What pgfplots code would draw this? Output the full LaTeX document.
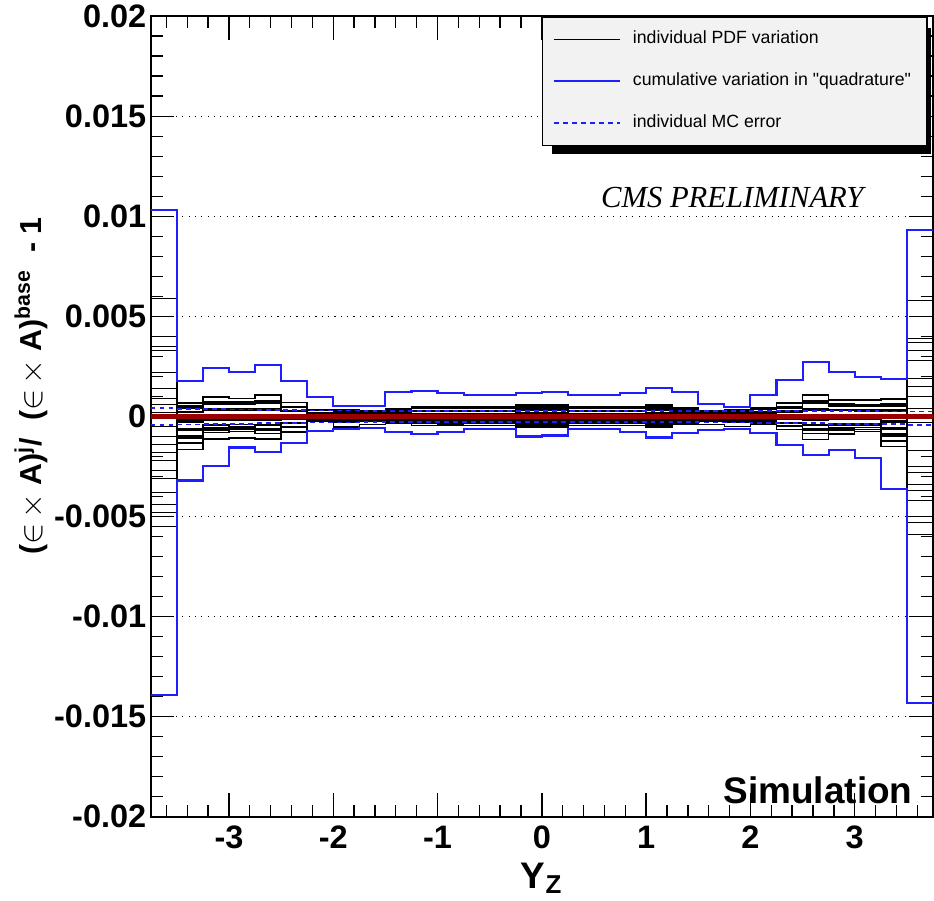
\documentclass[border=0pt]{standalone}
\usepackage{fontspec}
\setmainfont{Liberation Sans}
\newfontfamily\cmsfont{Liberation Serif}
\usepackage{pgfplots}
\pgfplotsset{compat=1.18}
\usepackage{pgfplotstable}
\usetikzlibrary{calc}
\pgfdeclarelayer{background}
\pgfsetlayers{background,main}

\definecolor{rootblue}{RGB}{30,30,255}
\definecolor{rootred}{RGB}{155,0,0}
\definecolor{legendfill}{RGB}{242,242,242}

% individual PDF variations, one column per eigenvector, left bin edges (last row closes the histogram)
\pgfplotstableread{
x v1 v2 v3 v4 v5 v6 v7 v8 v9 v10 v11 v12 v13 v14 v15 v16 v17 v18 v19 v20
-3.75 59e-4 -55e-4 40e-4 -48e-4 33e-4 -38e-4 22e-4 -31e-4 14e-4 -22e-4 6e-4 -14e-4 -5e-4 -44e-4 2e-4 -10e-4 9e-4 -18e-4 35e-4 -27e-4
-3.5 6.8e-4 -16.5e-4 4.8e-4 -9.5e-4 4.1e-4 -9.9e-4 2.4e-4 -6.3e-4 4.0e-4 -13.2e-4 0.7e-4 -1.2e-4 2.5e-4 -2.9e-4 5.1e-4 -10.7e-4 2.0e-4 -6.9e-4 0.6e-4 -2.3e-4
-3.25 9.6e-4 -11.2e-4 7.1e-4 -5.7e-4 6.5e-4 -6.4e-4 3.8e-4 -4.1e-4 6.2e-4 -8.1e-4 0.9e-4 -0.6e-4 3.7e-4 -1.8e-4 7.5e-4 -6.8e-4 3.2e-4 -4.3e-4 1.0e-4 -1.5e-4
-3 9.0e-4 -10.8e-4 6.7e-4 -5.3e-4 6.3e-4 -6.1e-4 3.6e-4 -3.9e-4 5.9e-4 -7.6e-4 0.8e-4 -0.5e-4 3.5e-4 -1.7e-4 7.1e-4 -6.5e-4 3.1e-4 -4.1e-4 0.9e-4 -1.5e-4
-2.75 10.8e-4 -11.2e-4 7.5e-4 -6.0e-4 6.8e-4 -6.6e-4 3.9e-4 -4.2e-4 6.5e-4 -8.5e-4 1.0e-4 -0.7e-4 3.9e-4 -1.9e-4 8.0e-4 -7.1e-4 3.3e-4 -4.5e-4 1.0e-4 -1.6e-4
-2.5 7.0e-4 -7.8e-4 4.7e-4 -3.6e-4 5.0e-4 -4.9e-4 2.9e-4 -3.2e-4 4.4e-4 -5.5e-4 0.5e-4 -0.2e-4 2.5e-4 -1.2e-4 4.8e-4 -5.0e-4 2.6e-4 -3.1e-4 0.8e-4 -1.2e-4
-2.25 3.3e-4 -2.5e-4 1.5e-4 -0.8e-4 3.0e-4 -2.4e-4 1.7e-4 -2.0e-4 2.0e-4 -2.1e-4 -0.2e-4 0.5e-4 0.9e-4 -0.4e-4 1.2e-4 -2.3e-4 1.8e-4 -1.5e-4 0.6e-4 -0.8e-4
-2 3.4e-4 -5.2e-4 1.9e-4 -1.1e-4 3.3e-4 -3.1e-4 1.8e-4 -2.1e-4 2.3e-4 -2.5e-4 -0.1e-4 0.4e-4 1.1e-4 -0.5e-4 1.7e-4 -2.9e-4 1.9e-4 -1.7e-4 0.6e-4 -0.9e-4
-1.75 2.8e-4 -3.9e-4 1.1e-4 -0.4e-4 2.8e-4 -2.6e-4 1.5e-4 -1.8e-4 1.7e-4 -1.7e-4 -0.2e-4 0.5e-4 0.7e-4 -0.3e-4 0.8e-4 -2.3e-4 1.7e-4 -1.3e-4 0.6e-4 -0.8e-4
-1.5 0.8e-4 -1.2e-4 -2.4e-4 3.6e-4 4.0e-4 -3.2e-4 2.0e-4 -2.8e-4 0.4e-4 1.2e-4 -1.6e-4 2.4e-4 -0.8e-4 0.6e-4 -3.3e-4 -2.0e-4 3.2e-4 -0.8e-4 1.2e-4 -1.4e-4
-1.25 1.0e-4 -1.5e-4 -3.0e-4 4.5e-4 5.0e-4 -4.5e-4 2.5e-4 -3.5e-4 0.5e-4 1.5e-4 -2.0e-4 3.0e-4 -1.0e-4 0.8e-4 -4.6e-4 -2.5e-4 4.0e-4 -1.0e-4 1.5e-4 -1.8e-4
-1 1.1e-4 -1.4e-4 -2.8e-4 4.3e-4 4.8e-4 -4.3e-4 2.4e-4 -3.3e-4 0.5e-4 1.4e-4 -1.9e-4 2.9e-4 -0.9e-4 0.7e-4 -4.4e-4 -2.4e-4 3.9e-4 -0.9e-4 1.4e-4 -1.7e-4
-0.75 0.9e-4 -1.5e-4 -2.9e-4 4.4e-4 4.9e-4 -4.4e-4 2.5e-4 -3.4e-4 0.5e-4 1.5e-4 -2.0e-4 3.0e-4 -1.0e-4 0.8e-4 -4.5e-4 -2.5e-4 4.0e-4 -1.0e-4 1.5e-4 -1.7e-4
-0.5 1.0e-4 -1.4e-4 -3.0e-4 4.5e-4 5.0e-4 -4.5e-4 2.5e-4 -3.5e-4 0.5e-4 1.5e-4 -2.0e-4 3.0e-4 -1.0e-4 0.8e-4 -4.6e-4 -2.5e-4 4.0e-4 -1.0e-4 1.5e-4 -1.8e-4
-0.25 1.2e-4 -1.8e-4 -3.6e-4 5.4e-4 6.0e-4 -5.4e-4 3.0e-4 -4.2e-4 0.6e-4 1.8e-4 -2.4e-4 3.6e-4 -1.2e-4 0.9e-4 -5.3e-4 -3.0e-4 4.8e-4 -1.2e-4 1.8e-4 -2.1e-4
0 1.3e-4 -1.8e-4 -3.6e-4 5.4e-4 6.0e-4 -5.4e-4 3.0e-4 -4.2e-4 0.6e-4 1.8e-4 -2.4e-4 3.6e-4 -1.2e-4 0.9e-4 -5.3e-4 -3.0e-4 4.8e-4 -1.2e-4 1.8e-4 -2.1e-4
0.25 1.0e-4 -1.5e-4 -3.0e-4 4.5e-4 5.0e-4 -4.5e-4 2.5e-4 -3.5e-4 0.5e-4 1.5e-4 -2.0e-4 3.0e-4 -1.0e-4 0.8e-4 -4.5e-4 -2.5e-4 4.0e-4 -1.0e-4 1.5e-4 -1.8e-4
0.5 0.9e-4 -1.5e-4 -3.0e-4 4.5e-4 5.0e-4 -4.5e-4 2.5e-4 -3.5e-4 0.5e-4 1.5e-4 -2.0e-4 3.0e-4 -1.0e-4 0.8e-4 -4.5e-4 -2.5e-4 4.0e-4 -1.0e-4 1.5e-4 -1.8e-4
0.75 1.0e-4 -1.6e-4 -3.0e-4 4.5e-4 5.0e-4 -4.5e-4 2.5e-4 -3.5e-4 0.5e-4 1.5e-4 -2.0e-4 3.0e-4 -1.0e-4 0.8e-4 -4.6e-4 -2.5e-4 4.0e-4 -1.0e-4 1.5e-4 -1.8e-4
1 1.2e-4 -1.8e-4 -3.6e-4 5.4e-4 6.0e-4 -5.4e-4 3.0e-4 -4.2e-4 0.6e-4 1.8e-4 -2.4e-4 3.6e-4 -1.2e-4 0.9e-4 -5.3e-4 -3.0e-4 4.8e-4 -1.2e-4 1.8e-4 -2.1e-4
1.25 0.9e-4 -1.4e-4 -2.7e-4 4.1e-4 4.5e-4 -4.1e-4 2.3e-4 -3.2e-4 0.5e-4 1.4e-4 -1.8e-4 2.7e-4 -0.9e-4 0.7e-4 -4.0e-4 -2.3e-4 3.6e-4 -0.9e-4 1.4e-4 -1.6e-4
1.5 2.8e-4 -3.9e-4 1.1e-4 -0.4e-4 2.8e-4 -2.6e-4 1.5e-4 -1.8e-4 1.7e-4 -1.7e-4 -0.2e-4 0.5e-4 0.7e-4 -0.3e-4 0.8e-4 -2.3e-4 1.7e-4 -1.3e-4 0.6e-4 -0.8e-4
1.75 3.3e-4 -4.9e-4 1.9e-4 -1.1e-4 3.3e-4 -3.1e-4 1.8e-4 -2.1e-4 2.3e-4 -2.5e-4 -0.1e-4 0.4e-4 1.1e-4 -0.5e-4 1.7e-4 -2.9e-4 1.9e-4 -1.7e-4 0.6e-4 -0.9e-4
2 4.3e-4 -4.0e-4 2.3e-4 -1.5e-4 3.5e-4 -3.4e-4 2.0e-4 -2.3e-4 2.6e-4 -3.0e-4 0 0.3e-4 1.3e-4 -0.6e-4 2.1e-4 -3.2e-4 2.0e-4 -1.9e-4 0.7e-4 -0.9e-4
2.25 6.8e-4 -6.6e-4 4.3e-4 -3.2e-4 4.8e-4 -4.6e-4 2.7e-4 -3.0e-4 4.1e-4 -5.1e-4 0.4e-4 -0.1e-4 2.3e-4 -1.1e-4 4.4e-4 -4.7e-4 2.5e-4 -2.9e-4 0.8e-4 -1.2e-4
2.5 10.8e-4 -11.5e-4 7.5e-4 -6.0e-4 6.8e-4 -6.6e-4 3.9e-4 -4.2e-4 6.5e-4 -8.5e-4 1.0e-4 -0.7e-4 3.9e-4 -1.9e-4 8.0e-4 -7.1e-4 3.3e-4 -4.5e-4 1.0e-4 -1.6e-4
2.75 8.3e-4 -8.8e-4 5.9e-4 -4.6e-4 5.8e-4 -5.6e-4 3.3e-4 -3.6e-4 5.3e-4 -6.8e-4 0.7e-4 -0.4e-4 3.1e-4 -1.5e-4 6.2e-4 -5.9e-4 2.9e-4 -3.7e-4 0.9e-4 -1.4e-4
3 8.2e-4 -7.5e-4 5.5e-4 -4.3e-4 5.5e-4 -5.4e-4 3.2e-4 -3.5e-4 5.0e-4 -6.4e-4 0.6e-4 -0.3e-4 2.9e-4 -1.4e-4 5.7e-4 -5.6e-4 2.8e-4 -3.5e-4 0.9e-4 -1.3e-4
3.25 8.6e-4 -15.0e-4 6.1e-4 -8.8e-4 5.3e-4 -9.2e-4 3.0e-4 -5.8e-4 5.1e-4 -12.2e-4 0.8e-4 -1.1e-4 3.2e-4 -2.7e-4 6.5e-4 -9.9e-4 2.5e-4 -6.4e-4 0.7e-4 -2.1e-4
3.5 58e-4 -59e-4 37e-4 -50e-4 39e-4 -42e-4 28e-4 -34e-4 15e-4 -25e-4 10e-4 -10e-4 -3e-4 -53e-4 4e-4 -17e-4 19e-4 -28e-4 33e-4 -37e-4
3.75 58e-4 -59e-4 37e-4 -50e-4 39e-4 -42e-4 28e-4 -34e-4 15e-4 -25e-4 10e-4 -10e-4 -3e-4 -53e-4 4e-4 -17e-4 19e-4 -28e-4 33e-4 -37e-4
}\pdfvars

% cumulative (quadrature) envelope and MC statistical error
\pgfplotstableread{
x up lo mcup mclo
-3.75 10.3e-3 -13.9e-3 0.42e-3 -0.42e-3
-3.5 1.78e-3 -3.2e-3 0.38e-3 -0.40e-3
-3.25 2.4e-3 -2.46e-3 0.36e-3 -0.38e-3
-3 2.22e-3 -1.55e-3 0.35e-3 -0.36e-3
-2.75 2.58e-3 -1.78e-3 0.34e-3 -0.34e-3
-2.5 1.75e-3 -1.33e-3 0.32e-3 -0.32e-3
-2.25 0.95e-3 -0.71e-3 0.30e-3 -0.30e-3
-2 0.50e-3 -0.63e-3 0.30e-3 -0.30e-3
-1.75 0.50e-3 -0.58e-3 0.29e-3 -0.29e-3
-1.5 1.20e-3 -0.80e-3 0.29e-3 -0.29e-3
-1.25 1.25e-3 -0.86e-3 0.28e-3 -0.28e-3
-1 1.17e-3 -0.76e-3 0.28e-3 -0.28e-3
-0.75 1.07e-3 -0.63e-3 0.28e-3 -0.28e-3
-0.5 1.07e-3 -0.63e-3 0.28e-3 -0.28e-3
-0.25 1.17e-3 -1.00e-3 0.28e-3 -0.28e-3
0 1.23e-3 -0.95e-3 0.28e-3 -0.28e-3
0.25 1.07e-3 -0.63e-3 0.28e-3 -0.28e-3
0.5 1.07e-3 -0.63e-3 0.28e-3 -0.28e-3
0.75 1.17e-3 -0.80e-3 0.28e-3 -0.28e-3
1 1.42e-3 -1.05e-3 0.28e-3 -0.28e-3
1.25 1.20e-3 -0.83e-3 0.28e-3 -0.29e-3
1.5 0.62e-3 -0.66e-3 0.28e-3 -0.30e-3
1.75 0.47e-3 -0.63e-3 0.28e-3 -0.30e-3
2 1.05e-3 -0.83e-3 0.28e-3 -0.32e-3
2.25 1.83e-3 -1.41e-3 0.27e-3 -0.33e-3
2.5 2.70e-3 -1.91e-3 0.27e-3 -0.34e-3
2.75 2.20e-3 -1.66e-3 0.26e-3 -0.36e-3
3 1.97e-3 -2.08e-3 0.26e-3 -0.37e-3
3.25 1.87e-3 -3.63e-3 0.25e-3 -0.38e-3
3.5 9.3e-3 -14.3e-3 0.25e-3 -0.41e-3
3.75 9.3e-3 -14.3e-3 0.25e-3 -0.41e-3
}\envelope

\newcommand{\tickfont}{\fontsize{12.3}{14}\selectfont\bfseries}

\begin{document}
\begin{tikzpicture}
\begin{axis}[
    scale only axis,
    width=296.3pt, height=303.3pt,
    xmin=-3.75, xmax=3.75,
    ymin=-0.02, ymax=0.02,
    xtick={-3,-2,-1,0,1,2,3},
    xticklabels={-3,-2,-1,0,1,2,3},
    minor xtick={-3.6,-3.4,...,3.7},
    ytick={-0.02,-0.015,-0.01,-0.005,0,0.005,0.01,0.015,0.02},
    yticklabels={-0.02,-0.015,-0.01,-0.005,0,0.005,0.01,0.015,0.02},
    minor y tick num=4,
    scaled y ticks=false,
    ymajorgrids,
    major grid style={dotted, black, line width=0.5pt},
    major tick length=9pt, minor tick length=4.5pt,
    every tick/.style={black, line width=0.5pt},
    axis line style={black, line width=0.8pt},
    ticklabel style={font=\tickfont},
    yticklabel style={inner xsep=1.5pt},
    xlabel={Y\textsubscript{Z}},
    xlabel style={font=\fontsize{14}{16}\selectfont\bfseries, at={(rel axis cs:0.5,0)}, anchor=base, yshift=-27pt},
    ylabel={($\in$\,$\times$\ A)\textsuperscript{j}/\ \ ($\in$\,$\times$\ A)\textsuperscript{base}\ \ -\ 1},
    ylabel style={font=\fontsize{11.5}{13}\selectfont\bfseries, at={(rel axis cs:-0.153,0.538)}, anchor=center},
    legend image code/.code={\draw[#1] (0pt,0pt) -- (25pt,0pt);},
    legend cell align=left,
    legend style={name=leg, at={(rel axis cs:0.9932,1)}, anchor=north east,
        fill=legendfill, draw=black, line width=0.6pt,
        font=\fontsize{6.7}{8}\selectfont,
        inner xsep=4pt, inner ysep=3.3pt, row sep=5.5pt,
        /tikz/every odd column/.append style={column sep=2.4pt}},
]
\addlegendimage{black, line width=0.5pt}
\addlegendentry{individual PDF variation}
\addlegendimage{rootblue, line width=0.8pt}
\addlegendentry{cumulative variation in \textquotedbl quadrature\textquotedbl}
\addlegendimage{rootblue, line width=0.6pt, dash pattern=on 1.8pt off 1.6pt}
\addlegendentry{individual MC error}

\pgfplotsinvokeforeach{1,...,20}{
  \addplot[const plot, black, line width=0.55pt, forget plot] table[x=x, y=v#1] {\pdfvars};
}
\addplot[const plot, rootblue, line width=0.8pt, forget plot] table[x=x, y=up] {\envelope};
\addplot[const plot, rootblue, line width=0.8pt, forget plot] table[x=x, y=lo] {\envelope};
\addplot[const plot, rootblue, line width=0.7pt, dash pattern=on 1.8pt off 1.6pt, forget plot] table[x=x, y=mcup] {\envelope};
\addplot[const plot, rootblue, line width=0.7pt, dash pattern=on 1.8pt off 1.6pt, forget plot] table[x=x, y=mclo] {\envelope};
\addplot[rootred, line width=1.8pt, forget plot] coordinates {(-3.75,0) (3.75,0)};

\node[anchor=base east, font=\cmsfont\itshape\fontsize{11.6}{14}\selectfont] at (rel axis cs:0.923,0.7615) {CMS PRELIMINARY};
\node[anchor=base east, font=\fontsize{14}{16}\selectfont\bfseries, inner sep=0pt] at (rel axis cs:0.9745,0.0171) {Simulation};

\coordinate (SW) at (rel axis cs:0,0);
\coordinate (NE) at (rel axis cs:1,1);
\end{axis}
% legend shadow, behind the legend box
\begin{pgfonlayer}{background}
\fill[black] ($(leg.south west)+(3.8pt,-2.9pt)$) rectangle ($(leg.north east)+(1.3pt,-4.5pt)$);
\end{pgfonlayer}
\path (SW) ++(-57.1pt,-31.9pt) coordinate (bbA);
\path (NE) ++(0.4pt,6.1pt) coordinate (bbB);
\pgfresetboundingbox
\path (bbA) rectangle (bbB);
\end{tikzpicture}
\end{document}
